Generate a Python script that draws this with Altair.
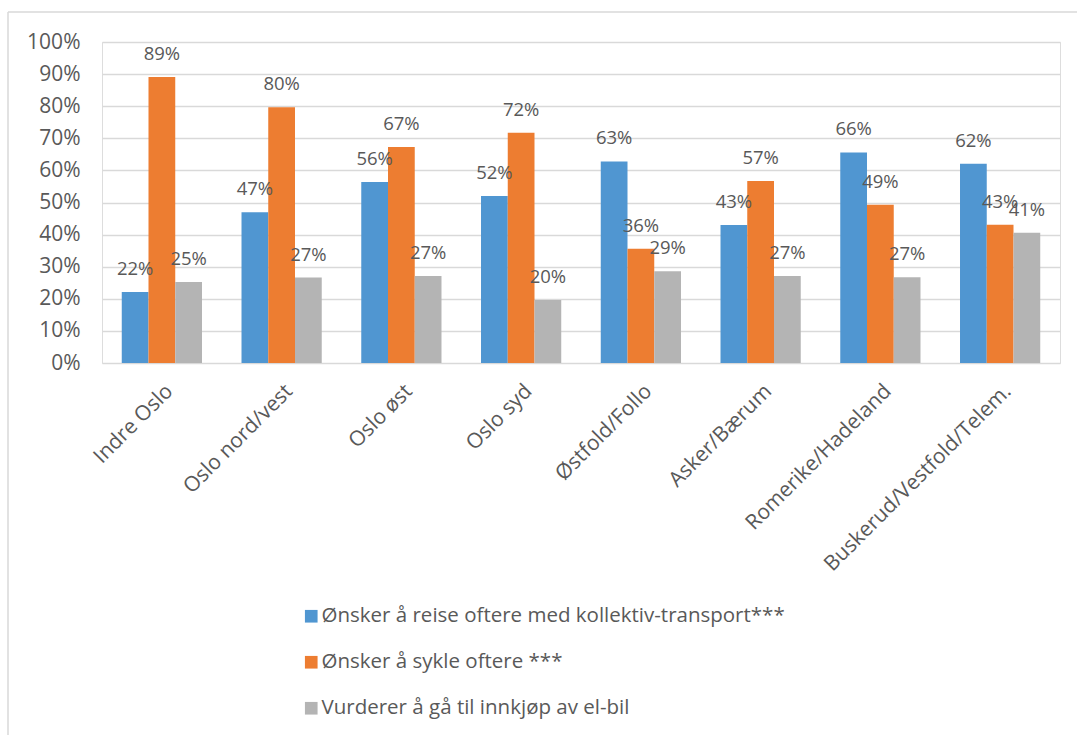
import altair as alt
import pandas as pd

categories = ["Indre Oslo", "Oslo nord/vest", "Oslo øst", "Oslo syd",
              "Østfold/Follo", "Asker/Bærum", "Romerike/Hadeland",
              "Buskerud/Vestfold/Telem."]
series_names = ["Ønsker å reise oftere med kollektiv-transport***",
                "Ønsker å sykle oftere ***",
                "Vurderer å gå til innkjøp av el-bil"]
kollektiv = [22.1, 47.0, 56.4, 52.0, 62.8, 43.0, 65.6, 62.1]
sykle = [89.1, 79.7, 67.3, 71.7, 35.6, 56.7, 49.3, 43.1]
elbil = [25.2, 26.6, 27.1, 19.6, 28.6, 27.1, 26.7, 40.6]
colors = ["#5096D1", "#ED7D31", "#B4B4B4"]
y_ticks = list(range(0, 101, 10))

rows = []
for s, vals in zip(series_names, [kollektiv, sykle, elbil]):
    for c, v in zip(categories, vals):
        rows.append({"region": c, "serie": s, "verdi": v})
df = pd.DataFrame(rows)

FONT = "Open Sans"
GREY = "#595959"
W, H = 958, 321

x_enc = alt.X("region:N", sort=categories, title=None,
              scale=alt.Scale(paddingInner=0.33, paddingOuter=0.165),
              axis=alt.Axis(labelAngle=-45, labelFontSize=21, labelColor=GREY,
                            labelFont=FONT, ticks=False, domain=False,
                            labelPadding=17, labelLimit=400))
xo_enc = alt.XOffset("serie:N", sort=series_names,
                     scale=alt.Scale(paddingInner=0, paddingOuter=0))
y_enc = alt.Y("verdi:Q", title=None,
              scale=alt.Scale(domain=[0, 100], nice=False),
              axis=alt.Axis(values=y_ticks,
                            labelExpr="datum.value + '%'",
                            labelFontSize=21, labelColor=GREY, labelFont=FONT,
                            labelOverlap=False,
                            ticks=False, domain=False, labelPadding=22,
                            grid=True, gridColor="#D9D9D9", gridWidth=1.5))

base = alt.Chart(df)

bars = base.mark_bar().encode(
    x=x_enc, xOffset=xo_enc, y=y_enc,
    color=alt.Color("serie:N", sort=series_names,
                    scale=alt.Scale(domain=series_names, range=colors),
                    legend=alt.Legend(title=None, orient="none",
                                      legendX=199, legendY=564,
                                      direction="vertical",
                                      symbolType="square", symbolSize=160,
                                      symbolStrokeWidth=0,
                                      labelFontSize=20.5, labelColor=GREY,
                                      labelFont=FONT, labelLimit=800,
                                      labelOffset=0, rowPadding=25))
)

labels = base.transform_calculate(
    lab="round(datum.verdi) + '%'"
).mark_text(fontSize=18.5, font=FONT, color=GREY, dy=-17,
            baseline="alphabetic", align="center").encode(
    x=x_enc, xOffset=xo_enc, y=y_enc, text="lab:N")

one = alt.Data(values=[{"a": 1}])
top_line = alt.Chart(one).mark_rule(color="#D9D9D9", strokeWidth=1.5).encode(
    x=alt.value(-94), x2=alt.value(W + 20), y=alt.value(-30))
left_line = alt.Chart(one).mark_rule(color="#D9D9D9", strokeWidth=1.5).encode(
    x=alt.value(-94), y=alt.value(-30), y2=alt.value(700))

chart = alt.layer(bars, labels, top_line, left_line).properties(
    width=W, height=H,
    autosize=alt.AutoSizeParams(type="none"),
    padding={"left": 102, "top": 42, "right": 17, "bottom": 372},
).configure_view(stroke=None).configure(font=FONT)

chart.save("out.html", embed_options={"renderer": "svg", "actions": False})
